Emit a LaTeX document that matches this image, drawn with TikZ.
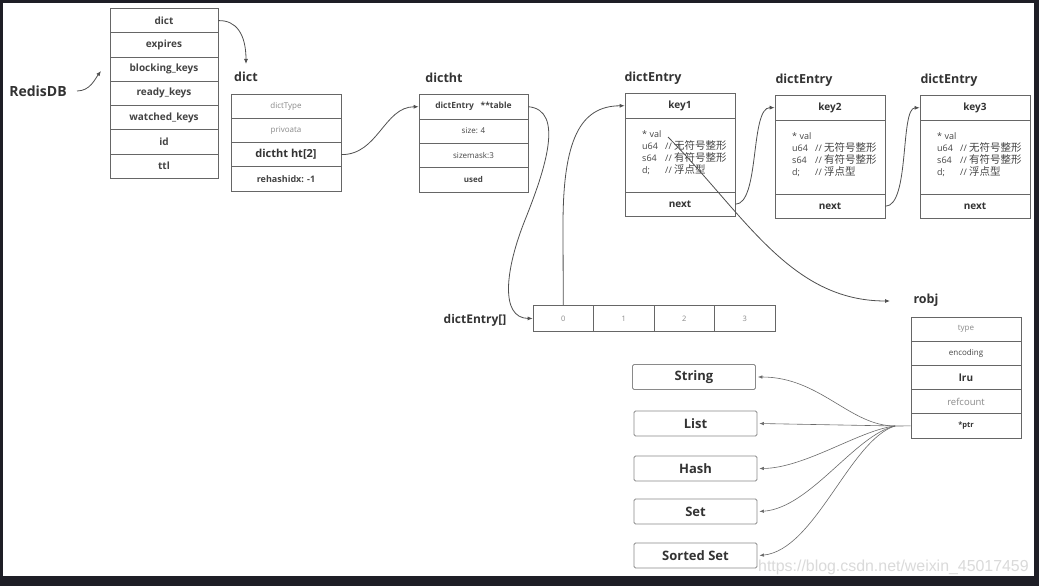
\documentclass[tikz,border=0pt]{standalone}
\usepackage{fontspec}
\setmainfont{Open Sans}
\newfontfamily\cjk{Noto Sans CJK SC}
\newfontfamily\wmfont{Liberation Sans}
\usetikzlibrary{arrows.meta}
\definecolor{frame}{HTML}{1E1E26}
\definecolor{txt}{HTML}{333333}
\definecolor{rowtxt}{HTML}{444444}
\definecolor{dim}{HTML}{8A8A8A}
\definecolor{boxc}{HTML}{666666}
\definecolor{linec}{HTML}{505050}
\definecolor{fanc}{HTML}{6A6A6A}
\definecolor{wmc}{HTML}{DADADA}
\newcommand\fsz[1]{\fontsize{#1}{#1}\selectfont}
\newcommand\zh[1]{{\cjk\fontsize{10.5}{12}\selectfont #1}}
\begin{document}
\begin{tikzpicture}[x=1pt,y=-1pt,
  cell/.style={draw=boxc, line width=0.7pt, inner sep=0pt, text=rowtxt},
  lbl/.style={inner sep=0pt, text=txt, font=\fsz{12.5}\bfseries},
  small/.style={font=\fsz{8}, text=dim},
  rowb/.style={font=\fsz{10}\bfseries},
  arr/.style={draw=linec, line width=0.8pt, -{Latex[length=5pt,width=4pt]}},
  fan/.style={draw=fanc, line width=0.6pt, -{Latex[length=4.5pt,width=3.5pt]}},
  typebox/.style={draw=dim, line width=0.8pt, rounded corners=1.5pt, minimum width=123pt, minimum height=25pt, inner sep=0pt, text=txt, font=\fsz{13}\bfseries},
  valtxt/.style={anchor=north west, inner sep=0pt, align=left, text=rowtxt, font=\fontsize{9}{12}\selectfont}
]
% frame and canvas
\fill[frame] (0,0) rectangle (1039,586);
\fill[white] (3,3) rectangle (1034,576);
\useasboundingbox (0,0) rectangle (1039,586);

% watermark
\node[anchor=base west, inner sep=0pt, text=wmc, font=\wmfont\fsz{15.9}] (wm) at (758,571) {https://blog.csdn.net/weixin\_45017459};

% RedisDB
\node[inner sep=0pt, text=txt, font=\fsz{14}\bfseries] (redis) at (38,91) {RedisDB};
\foreach \t [count=\i] in {dict,expires,blocking\_keys,ready\_keys,watched\_keys,id,ttl}
  \node[cell, rowb, minimum width=108pt, minimum height=24.25pt] (db\i) at (164,{8.5+24.25*(\i-0.5)}) {\t};

% dict
\node[lbl] (dictlbl) at (246,77) {dict};
\node[cell, small, minimum width=110pt, minimum height=24.25pt] (d1) at (286,106.1) {dictType};
\node[cell, small, minimum width=110pt, minimum height=24.25pt] (d2) at (286,130.4) {privoata};
\node[cell, font=\fsz{11}\bfseries, text=txt, minimum width=110pt, minimum height=24.25pt] (d3) at (286,154.6) {dictht ht[2]};
\node[cell, font=\fsz{9}\bfseries, minimum width=110pt, minimum height=24.25pt] (d4) at (286,178.9) {rehashidx: -1};

% dictht
\node[lbl] (htlbl) at (444,78) {dictht};
\node[cell, font=\fsz{8.5}\bfseries, minimum width=109pt, minimum height=24.4pt] (h1) at (473.5,106.7) {dictEntry~~~**table};
\node[cell, font=\fsz{8}, minimum width=109pt, minimum height=24.4pt] (h2) at (473.5,131.1) {size: 4};
\node[cell, font=\fsz{8}, minimum width=109pt, minimum height=24.4pt] (h3) at (473.5,155.5) {sizemask:3};
\node[cell, font=\fsz{8}\bfseries, minimum width=109pt, minimum height=24.4pt] (h4) at (473.5,179.9) {used};

% dictEntry[]
\node[inner sep=0pt, text=txt, font=\fsz{12}\bfseries] (arrlbl) at (475,320) {dictEntry[]};
\foreach \n [count=\i from 0] in {0,1,2,3}
  \node[cell, font=\fsz{7.5}, text=dim, minimum width=60.5pt, minimum height=26.5pt] (a\i) at ({563.25+60.5*\i},318.5) {\n};

% dictEntry boxes
\foreach \k/\cx/\top/\lx/\ly in {1/680/93.5/653/78, 2/830/95.5/804/80, 3/975/95.5/949/80} {
  \node[lbl] (el\k) at (\lx,\ly) {dictEntry};
  \node[cell, font=\fsz{10}\bfseries, text=txt, minimum width=110pt, minimum height=24.5pt] (k\k) at (\cx,{\top+12.25}) {key\k};
  \node[cell, minimum width=110pt, minimum height=74pt] (v\k) at (\cx,{\top+24.5+37}) {};
  \node[cell, font=\fsz{10}\bfseries, text=txt, minimum width=110pt, minimum height=24.5pt] (n\k) at (\cx,{\top+98.5+12.25}) {next};
  \node[valtxt] (vt\k) at ({\cx-38},{\top+37}) {* val\\
    \makebox[23pt][l]{u64}// \zh{无符号整形}\\
    \makebox[23pt][l]{s64}// \zh{有符号整形}\\
    \makebox[23pt][l]{d;}// \zh{浮点型}};
}

% robj
\node[lbl] (robjlbl) at (926,300) {robj};
\node[cell, small, minimum width=110pt, minimum height=24.2pt] (r1) at (966,329.1) {type};
\node[cell, font=\fsz{8}, text=rowtxt, minimum width=110pt, minimum height=24.2pt] (r2) at (966,353.3) {encoding};
\node[cell, font=\fsz{10}\bfseries, text=txt, minimum width=110pt, minimum height=24.2pt] (r3) at (966,377.5) {lru};
\node[cell, font=\fsz{9.5}, text=dim, minimum width=110pt, minimum height=24.2pt] (r4) at (966,401.7) {refcount};
\node[cell, font=\fsz{7.5}\bfseries, text=txt, minimum width=110pt, minimum height=24.2pt] (r5) at (966,425.9) {*ptr};

% type boxes
\node[typebox] (tString) at (694,377) {String};
\node[typebox] (tList) at (695.5,423.5) {List};
\node[typebox] (tHash) at (695.5,468.5) {Hash};
\node[typebox] (tSet) at (695.5,511.5) {Set};
\node[typebox] (tSorted) at (695.5,555.5) {Sorted Set};

% coordinates for free ends
\coordinate (rs) at (77,91);
\coordinate (re) at (101,71);
\coordinate (de) at (246,64);
\coordinate (vs) at (668,137);
\coordinate (ve) at (890,301);
\coordinate (fo) at (895,426);

% connectors
\draw[arr] (rs) .. controls (90,91) and (95,79) .. (re);
\draw[arr] (db1.east) .. controls (236,20) and (246,34) .. (de);
\draw[arr] (d3.east) .. controls (378,155) and (384,107) .. (h1.west);
\draw[arr] (h1.east) .. controls (565,110) and (545,170) .. (525,220) .. controls (505,270) and (500,318) .. (a0.west);
\draw[arr] (a0.north) -- (563,225) .. controls (563,140) and (580,106) .. (k1.west);
\draw[arr] (n1.east) .. controls (760,204) and (750,107) .. (k2.west);
\draw[arr] (n2.east) .. controls (910,206) and (900,108) .. (k3.west);
\draw[arr] (vs) .. controls (745,215) and (790,301) .. (ve);

% fan from *ptr
\draw[fanc, line width=0.6pt] (r5.west) -- (fo);
\draw[fan] (fo) .. controls (850,426) and (820,377) .. ([xshift=2pt]tString.east);
\draw[fan] (fo) -- ([xshift=2pt]tList.east);
\draw[fan] (fo) .. controls (860,430) and (805,468) .. ([xshift=2pt]tHash.east);
\draw[fan] (fo) .. controls (855,435) and (810,508) .. ([xshift=2pt]tSet.east);
\draw[fan] (fo) .. controls (850,440) and (815,550) .. ([xshift=2pt]tSorted.east);
\end{tikzpicture}
\end{document}
